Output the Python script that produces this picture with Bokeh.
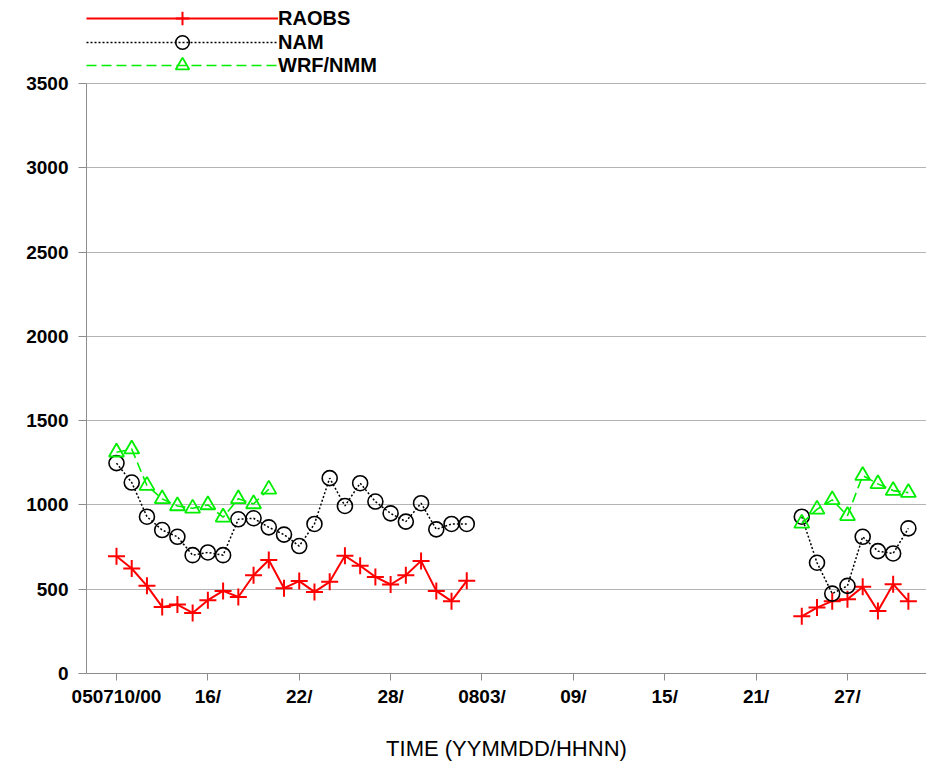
import math
from bokeh.plotting import figure
from bokeh.models import FixedTicker, Legend, LegendItem, Range1d
from bokeh.embed import file_html
from bokeh.resources import INLINE

nan = float("nan")

# x values: days since 2005-07-10 00Z
days_a = list(range(0, 24))        # Jul 10 .. Aug 2
days_b = list(range(45, 53))       # Aug 24 .. Aug 31
wrf_days_a = list(range(0, 11))    # Jul 10 .. Jul 20

raobs_a = [696, 623, 520, 395, 409, 359, 435, 490, 454, 583, 673, 506,
           548, 484, 544, 698, 639, 573, 528, 583, 668, 490, 429, 550]
raobs_b = [339, 391, 429, 440, 514, 371, 530, 429]

nam_a = [1248, 1133, 930, 851, 811, 702, 718, 702, 915, 921, 867, 824,
         756, 887, 1159, 994, 1129, 1020, 950, 901, 1010, 855, 887, 887]
nam_b = [930, 657, 474, 520, 811, 726, 712, 861]

wrf_a = [1313, 1331, 1115, 1036, 994, 980, 1000, 927, 1036, 1006, 1093]
wrf_b = [891, 974, 1030, 936, 1174, 1125, 1085, 1073]

series_names = ["RAOBS", "NAM", "WRF/NMM"]

x_ticks = [0, 6, 12, 18, 24, 30, 36, 42, 48]
x_tick_labels = ["050710/00", "16/", "22/", "28/", "0803/", "09/", "15/", "21/", "27/"]
y_ticks = [0, 500, 1000, 1500, 2000, 2500, 3000, 3500]
y_max = 3500


def joined(xa, ya, xb, yb):
    return xa + [nan] + xb, ya + [nan] + yb


FONT = "Liberation Sans"
W, H = 926, 763
LEFT, BOTTOM = 86, 90
AXIS_TOP = 83          # pixel row of the 3500 line
frame_h = H - BOTTOM   # frame runs to the top of the canvas, legend sits inside it
y_top = y_max * frame_h / (frame_h - AXIS_TOP)

p = figure(width=W, height=H, output_backend="svg", toolbar_location=None,
           x_range=Range1d(-1.97, 53.19), y_range=Range1d(0, y_top),
           min_border_left=LEFT, min_border_right=0, min_border_top=0,
           min_border_bottom=BOTTOM)
p.outline_line_color = None
p.background_fill_color = "white"
p.border_fill_color = "white"

rx, ry = joined(days_a, raobs_a, days_b, raobs_b)
nx, ny = joined(days_a, nam_a, days_b, nam_b)
wx, wy = joined(wrf_days_a, wrf_a, days_b, wrf_b)

RED = "#ff0000"
GREEN = "#00ee00"

r_line = p.line(rx, ry, line_color=RED, line_width=2)
r_sc = p.scatter(rx, ry, marker="cross", size=17, line_color=RED, line_width=2)

n_line = p.line(nx, ny, line_color="black", line_width=1.5, line_dash="2 2")
n_sc = p.scatter(nx, ny, marker="circle", size=15, line_color="black",
                 fill_color=None, line_width=1.6)

w_line = p.line(wx, wy, line_color=GREEN, line_width=1.6, line_dash="10 5")
w_sc = p.scatter(wx, wy, marker="triangle", size=15, line_color=GREEN,
                 fill_color=None, line_width=1.8)

# axes
p.xaxis.ticker = FixedTicker(ticks=x_ticks)
p.xaxis.major_label_overrides = {t: l for t, l in zip(x_ticks, x_tick_labels)}
p.yaxis.ticker = FixedTicker(ticks=y_ticks)
p.yaxis.bounds = (0, y_max)
for ax in (p.xaxis, p.yaxis):
    ax.minor_tick_line_color = None
    ax.axis_line_color = "#8c8c8c"
    ax.major_tick_line_color = "#8c8c8c"
    ax.major_tick_in = 0
    ax.major_label_text_font = FONT
    ax.major_label_text_font_style = "bold"
    ax.major_label_text_font_size = "19px"
    ax.major_label_text_color = "black"
p.xaxis.major_tick_out = 7
p.yaxis.major_tick_out = 8
p.xaxis.major_label_standoff = 5
p.yaxis.major_label_standoff = 10
p.xaxis.axis_label = "TIME (YYMMDD/HHNN)"
p.xaxis.axis_label_text_font = FONT
p.xaxis.axis_label_text_font_style = "normal"
p.xaxis.axis_label_text_font_size = "22px"
p.xaxis.axis_label_text_color = "black"
p.xaxis.axis_label_standoff = 26

p.xgrid.visible = False
p.ygrid.grid_line_color = "#b4b4b4"
p.ygrid.grid_line_width = 1

# one single-item legend per series so each row sits at its own height
LEG_ITEM = 34
row_centres = [18, 42, 65]   # pixel rows of the legend entries, from the top
for name, rends, c in zip(series_names,
                          [[r_line, r_sc], [n_line, n_sc], [w_line, w_sc]],
                          row_centres):
    lg = Legend(
        items=[LegendItem(label=name, renderers=rends)],
        location=(0, frame_h - c - LEG_ITEM // 2), orientation="vertical",
        glyph_width=192, glyph_height=LEG_ITEM, label_height=LEG_ITEM,
        spacing=0, padding=0, margin=0, label_standoff=-12,
        border_line_color=None, background_fill_alpha=0,
        label_text_font=FONT, label_text_font_style="bold",
        label_text_font_size="20px", label_text_color="black",
    )
    p.add_layout(lg)

open("out.html", "w").write(file_html(p, INLINE))
